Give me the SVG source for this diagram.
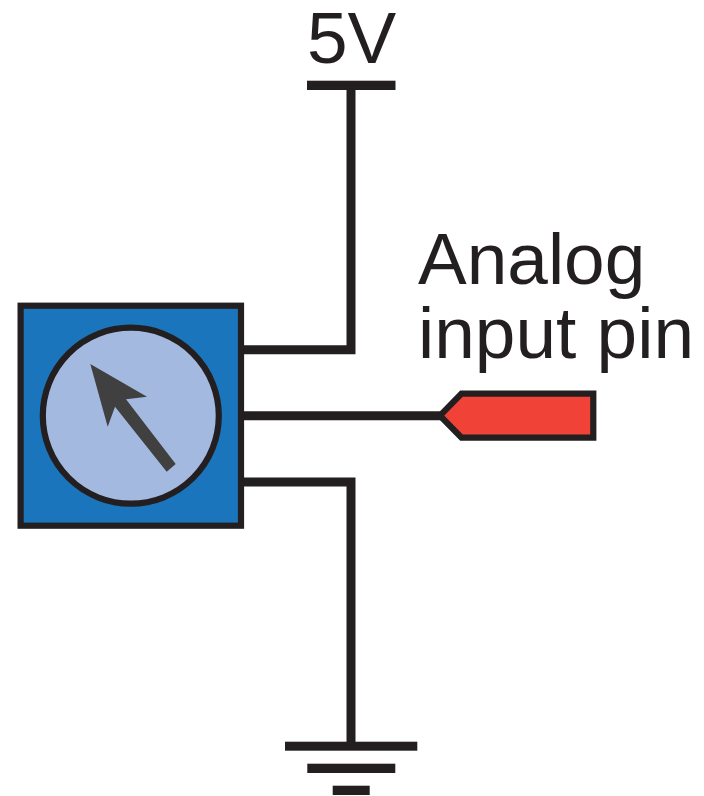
<svg xmlns="http://www.w3.org/2000/svg" width="704" height="796" viewBox="0 0 704 796">
<style>
.w{fill:none;stroke:#231f20;stroke-width:9;stroke-linejoin:miter}
.b{fill:#231f20}
.t{font-family:"Liberation Sans",Arial,sans-serif;font-size:73px;fill:#231f20}
</style>
<rect width="704" height="796" fill="#fff"/>
<g id="connectors">
<path class="w" d="M351 90V349.7H241"/>
<path class="w" d="M241 415.8H441"/>
<path class="w" d="M241 482H351V742"/>
</g>
<g id="supply">
<rect class="b" x="307" y="80.7" width="88.5" height="9.3"/>
<text class="t" x="307" y="63">5V</text>
</g>
<g id="potentiometer">
<rect x="20.6" y="305.7" width="220.4" height="220" fill="#1a75bc" stroke="#231f20" stroke-width="6.2"/>
<circle cx="130.8" cy="415.7" r="88" fill="#a4b9e0" stroke="#231f20" stroke-width="6.2"/>
<polygon points="90.3,364 147,396.7 126,399.3 175.7,464 166.7,471.7 115,406.7 107.7,426.7" fill="#404040"/>
</g>
<g id="analog-pin">
<polygon points="440,415.7 461.5,393.7 593.3,393.7 593.3,437.7 461.5,437.7" fill="#f04236" stroke="#231f20" stroke-width="6.2"/>
<text class="t" x="418" y="284">Analog</text>
<text class="t" x="418" y="358">input pin</text>
</g>
<g id="ground">
<rect class="b" x="285" y="741.7" width="132.3" height="9"/>
<rect class="b" x="307.3" y="763.7" width="88" height="9.3"/>
<rect class="b" x="332.7" y="785.7" width="37" height="9.3"/>
</g>
</svg>
